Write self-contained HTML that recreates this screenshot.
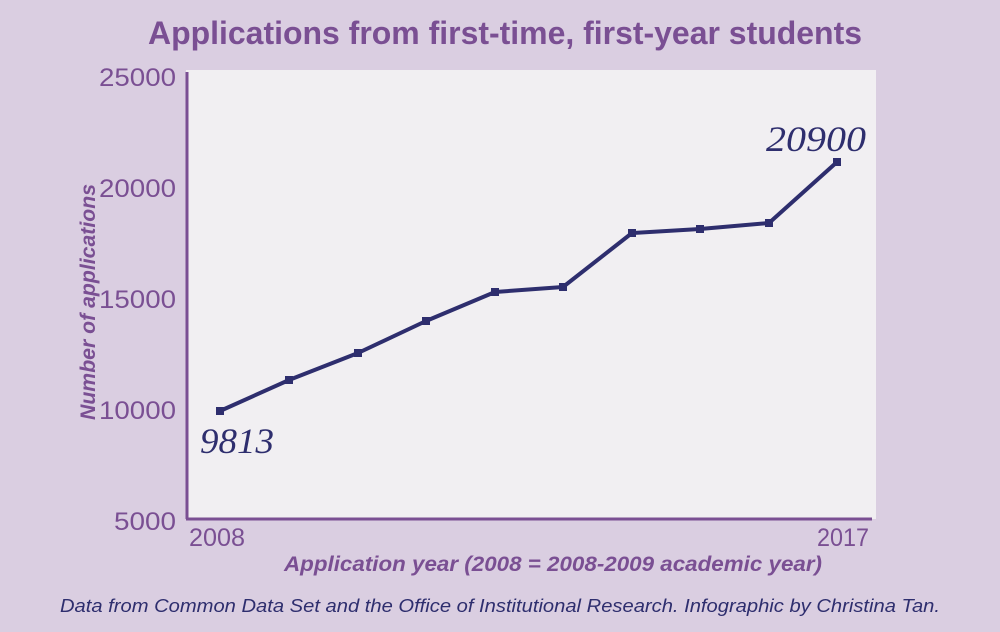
<!DOCTYPE html>
<html><head><meta charset="utf-8"><style>
html,body{margin:0;padding:0;}
body{width:1000px;height:627px;background:#dacee1;overflow:hidden;}
</style></head><body>
<svg width="1000" height="627" viewBox="0 0 1000 627" xmlns="http://www.w3.org/2000/svg">
<rect x="0" y="0" width="1000" height="627" fill="#dacee1"/>
<rect x="186" y="70" width="690" height="449" fill="#f1eff2"/>
<text x="148" y="44" textLength="714" lengthAdjust="spacingAndGlyphs" font-family="Liberation Sans, sans-serif" font-weight="bold" font-size="32" fill="#7a4f93">Applications from first-time, first-year students</text>
<line x1="187" y1="72" x2="187" y2="519" stroke="#7a4f93" stroke-width="3"/>
<line x1="186" y1="519" x2="872" y2="519" stroke="#7a4f93" stroke-width="3"/>
<g font-family="Liberation Sans, sans-serif" font-size="25" fill="#7a4f93" text-anchor="end">
<text x="176" y="86" textLength="77" lengthAdjust="spacingAndGlyphs">25000</text>
<text x="176" y="197" textLength="77" lengthAdjust="spacingAndGlyphs">20000</text>
<text x="176" y="308" textLength="77" lengthAdjust="spacingAndGlyphs">15000</text>
<text x="176" y="419" textLength="77" lengthAdjust="spacingAndGlyphs">10000</text>
<text x="176" y="530" textLength="62" lengthAdjust="spacingAndGlyphs">5000</text>
</g>
<g font-family="Liberation Sans, sans-serif" font-size="25" fill="#7a4f93">
<text x="189" y="546" textLength="56" lengthAdjust="spacingAndGlyphs">2008</text>
<text x="817" y="546" textLength="52" lengthAdjust="spacingAndGlyphs">2017</text>
</g>
<text transform="translate(95,420) rotate(-90)" textLength="236" lengthAdjust="spacingAndGlyphs" font-family="Liberation Sans, sans-serif" font-style="italic" font-weight="bold" font-size="21" fill="#7a4f93">Number of applications</text>
<text x="284" y="571" textLength="538" lengthAdjust="spacingAndGlyphs" font-family="Liberation Sans, sans-serif" font-style="italic" font-weight="bold" font-size="21" fill="#7a4f93">Application year (2008 = 2008-2009 academic year)</text>
<text x="60" y="612" textLength="880" lengthAdjust="spacingAndGlyphs" font-family="Liberation Sans, sans-serif" font-style="italic" font-size="18" fill="#2e2e6e">Data from Common Data Set and the Office of Institutional Research. Infographic by Christina Tan.</text>
<polyline fill="none" stroke="#2e2e6e" stroke-width="4" stroke-linejoin="round" points="220,411 289,380 358,353 426,321 495,292 563,287 632,233 700,229 769,223 837,162"/>
<g fill="#2e2e6e">
<rect x="216" y="407" width="8" height="8"/><rect x="285" y="376" width="8" height="8"/><rect x="354" y="349" width="8" height="8"/><rect x="422" y="317" width="8" height="8"/><rect x="491" y="288" width="8" height="8"/><rect x="559" y="283" width="8" height="8"/><rect x="628" y="229" width="8" height="8"/><rect x="696" y="225" width="8" height="8"/><rect x="765" y="219" width="8" height="8"/><rect x="833" y="158" width="8" height="8"/>
</g>
<text x="200" y="453" textLength="74" lengthAdjust="spacingAndGlyphs" font-family="Liberation Serif, serif" font-style="italic" font-size="36" fill="#2e2e6e">9813</text>
<text x="766" y="151" textLength="100" lengthAdjust="spacingAndGlyphs" font-family="Liberation Serif, serif" font-style="italic" font-size="36" fill="#2e2e6e">20900</text>
</svg>
</body></html>
